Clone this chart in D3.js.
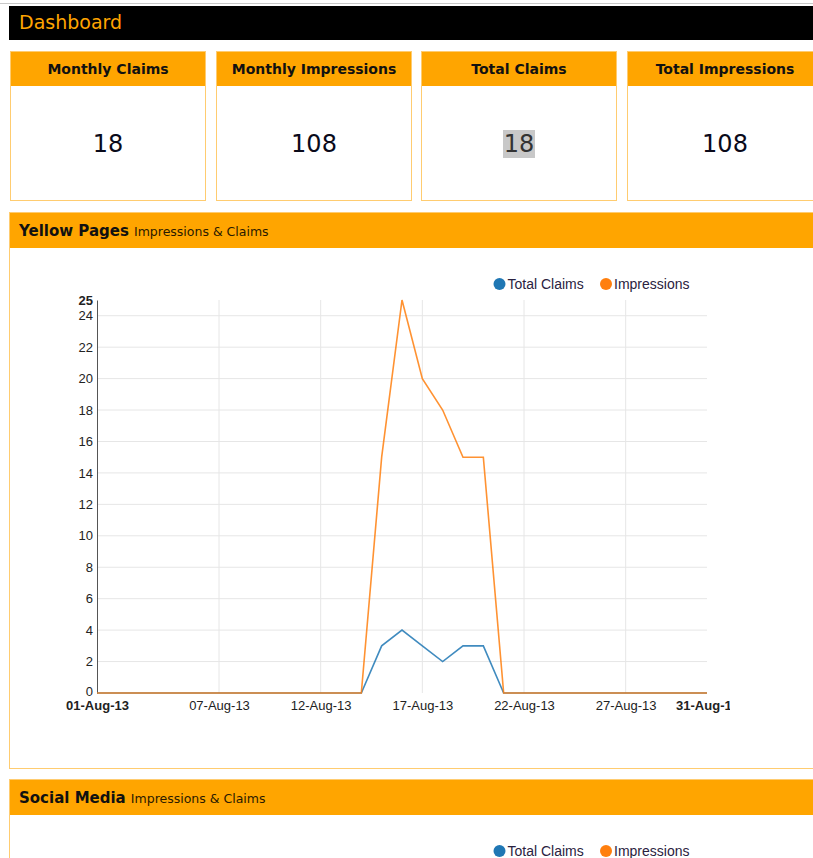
<!DOCTYPE html>
<html>
<head>
<meta charset="utf-8">
<script src="https://cdn.jsdelivr.net/npm/d3@7"></script>
<style>
  html, body { margin: 0; padding: 0; overflow: hidden; background: #fff; }
  body { width: 813px; height: 858px; position: relative; font-family: "DejaVu Sans", Verdana, sans-serif; }
  .topline { position: absolute; left: 0; top: 3px; width: 840px; height: 1px; background: #c8c8c8; }
  .dash { position: absolute; left: 9px; top: 6px; width: 830px; height: 34px; background: #000; }
  .dash span { position: absolute; left: 10px; top: 5px; color: #ffa500; font-size: 19px; }
  .card { position: absolute; top: 51px; width: 194px; height: 148px; border: 1px solid #ffcc70; background: #fff; }
  .card .hd { height: 34px; background: #ffa500; text-align: center; font-weight: bold; font-size: 14px; line-height: 34px; color: #111; }
  .card .val { text-align: center; font-size: 24px; margin-top: 44px; color: #0a0a1a; }
  .card .val span.sel { background: #c8c8c8; color: #333; padding: 0 1px; }
  .panel { position: absolute; left: 9px; width: 830px; border: 1px solid #ffcc70; background: #fff; }
  .panel .hd { height: 35px; background: #ffa500; line-height: 36px; padding-left: 9px; color: #111; }
  .panel .hd b { font-size: 15px; }
  .panel .hd small { font-size: 12.5px; color: #2a1a00; }
  svg { position: absolute; left: 0; top: 0; }
  .tick text { font-family: "Liberation Sans", Arial, sans-serif; fill: #222; }
</style>
</head>
<body>
<div class="topline"></div>
<div class="dash"><span>Dashboard</span></div>
<div id="cards"></div>
<div class="panel" style="top:212px;height:555px"><div class="hd"><b>Yellow Pages</b> <small>Impressions &amp; Claims</small></div></div>
<div class="panel" style="top:779px;height:120px"><div class="hd"><b>Social Media</b> <small>Impressions &amp; Claims</small></div></div>
<script>
const cardTitles = ["Monthly Claims", "Monthly Impressions", "Total Claims", "Total Impressions"];
const cardValues = ["18", "108", "18", "108"];

// one value per day, 01-Aug-13 .. 31-Aug-13
const claims = [0,0,0,0,0,0,0,0,0,0,0,0,0,0,3,4,3,2,3,3,0,0,0,0,0,0,0,0,0,0,0];
const impressions = [0,0,0,0,0,0,0,0,0,0,0,0,0,0,15,25,20,18,15,15,0,0,0,0,0,0,0,0,0,0,0];
const tickDays = [1, 7, 12, 17, 22, 27, 31];
const yTicks = [0,2,4,6,8,10,12,14,16,18,20,22,24,25];
const seriesNames = ["Total Claims", "Impressions"];
const colors = ["#1f77b4", "#ff7f0e"];

d3.select("#cards").selectAll("div.card").
data(cardTitles).
enter().
append("div").
attr("class", "card").
style("left", (d, i) => Math.round(10 + i * 205.6) + "px").
html((d, i) => "<div class='hd'>" + d + "</div><div class='val'>" +
  (i == 2 ? "<span class='sel'>" + cardValues[i] + "</span>" : cardValues[i]) + "</div>");

const svg = d3.select("body").append("svg").
attr("width", 730).
attr("height", 858);

const dates = d3.timeDay.range(new Date(2013, 7, 1), new Date(2013, 8, 1));
const xScale = d3.scaleTime().domain([dates[0], dates[30]]).range([97, 707]);
const yScale = d3.scaleLinear().domain([0, 25]).range([693, 300]);
const fmt = d3.timeFormat("%d-%b-%y");
const tickDates = tickDays.map(d => new Date(2013, 7, d));

// grid
svg.append("g").selectAll("line").
data(yTicks.filter(v => v > 0 && v < 25)).
enter().append("line").
attr("x1", 97).attr("x2", 707).
attr("y1", d => yScale(d)).attr("y2", d => yScale(d)).
attr("stroke", "#e6e6e6");

svg.append("g").selectAll("line").
data(tickDates.slice(1, -1)).
enter().append("line").
attr("x1", d => xScale(d)).attr("x2", d => xScale(d)).
attr("y1", 300).attr("y2", 693).
attr("stroke", "#e6e6e6");

const xAxis = d3.axisBottom(xScale).tickValues(tickDates).tickFormat(fmt).tickSize(0).tickPadding(8);
const gx = svg.append("g").attr("transform", "translate(0,693)").call(xAxis);
gx.select(".domain").remove();
gx.selectAll("text").style("font-size", "13px").
style("font-weight", (d, i) => (i == 0 || i == tickDates.length - 1) ? "bold" : "normal");

const yAxis = d3.axisLeft(yScale).tickValues(yTicks).tickSize(0).tickPadding(4);
const gy = svg.append("g").attr("transform", "translate(97,0)").call(yAxis);
gy.select(".domain").attr("stroke", "#555");
gy.selectAll("text").style("font-size", "13px").
style("font-weight", d => d == 25 ? "bold" : "normal");
gy.selectAll(".tick").filter(d => d == 0).select("text").attr("dy", "0.2em");

const line = d3.line().x((d, i) => xScale(dates[i])).y(d => yScale(d));
[claims, impressions].forEach((s, k) => {
  svg.append("path").
  attr("d", line(s)).
  attr("fill", "none").
  attr("stroke", colors[k]).
  attr("stroke-opacity", 0.85).
  attr("stroke-width", 1.6);
});

// legends for both panels
[284, 851].forEach(ly => {
  const lg = svg.append("g");
  [499.5, 606].forEach((cx, k) => {
    lg.append("circle").attr("cx", cx).attr("cy", ly).attr("r", 6).attr("fill", colors[k]);
    lg.append("text").attr("x", cx + 8).attr("y", ly + 5).
    attr("font-family", "Liberation Sans, Arial, sans-serif").
    attr("font-size", "14px").attr("fill", "#2a2240").
    text(seriesNames[k]);
  });
});
</script>
</body>
</html>
